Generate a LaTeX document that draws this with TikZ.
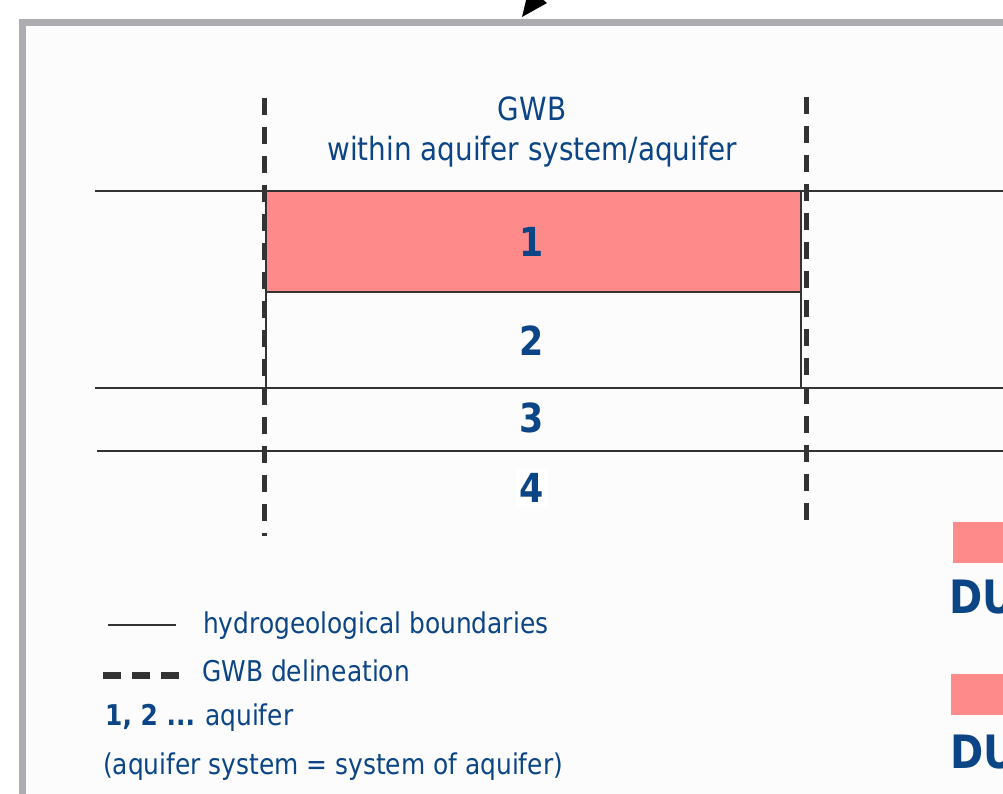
\documentclass[tikz,border=0pt]{standalone}
\usepackage{fontspec}
\setmainfont{DejaVu Sans}[FakeStretch=0.87]
\definecolor{framegray}{HTML}{ADADB1}
\definecolor{panelbg}{HTML}{FCFCFC}
\definecolor{aqpink}{HTML}{FF8A8A}
\definecolor{txtblue}{HTML}{0B4586}
\definecolor{linegray}{HTML}{333333}
\tikzset{
  boundary/.style={draw=linegray, line width=1.8pt},
  gwbline/.style={draw=linegray, line width=5pt, dash pattern=on 17pt off 12pt},
  label/.style={text=txtblue, inner sep=0pt, font=\fontsize{28.6}{34}\selectfont},
  headlabel/.style={text=txtblue, inner sep=0pt, font=\fontsize{32}{38}\selectfont},
  aqnum/.style={text=txtblue, inner sep=0pt, font=\bfseries\fontsize{40}{46}\selectfont},
  bigdu/.style={text=txtblue, inner sep=0pt, anchor=base west, font=\bfseries\fontsize{46}{52}\selectfont},
}
\begin{document}
\begin{tikzpicture}[x=1pt, y=-1pt]
\useasboundingbox (0,0) rectangle (1003,794);
\clip (0,0) rectangle (1003,794);
% panel with grey frame
\fill[white] (0,0) rectangle (1003,794);
\draw[framegray, line width=7pt, fill=panelbg] (22.5,22.5) rectangle (1200,1000);
% arrowhead entering from above
\fill[black] (522,17) -- (547,3) -- (529,-12) -- cycle;

% heading
\node[headlabel, anchor=base] (gwb) at (532,121) {GWB};
\node[headlabel, anchor=base] (within) at (532,161) {within aquifer system/aquifer};

% aquifer 1 (pink) and aquifer 2 inside the GWB
\fill[aqpink] (266,191) rectangle (801,292);
\draw[linegray, line width=1.2pt] (266,191) -- (266,388);
\draw[linegray, line width=1.2pt] (801,191) -- (801,388);
\draw[linegray, line width=1.2pt] (266,292) -- (801,292);

% hydrogeological boundaries
\draw[boundary] (95,191) -- (1003,191);
\draw[boundary] (95,388) -- (1003,388);
\draw[boundary] (97,451) -- (1003,451);

% GWB delineation
\draw[gwbline] (264,98) -- (264,536);
\draw[gwbline] (806,97) -- (806,531);

% aquifer numbers
\node[aqnum, anchor=base] (n1) at (532,257) {1};
\node[aqnum, anchor=base] (n2) at (532,355) {2};
\node[aqnum, anchor=base] (n3) at (532,432) {3};
\node[aqnum, anchor=base, fill=white, inner sep=4pt] (n4) at (532,502) {4};

% right-hand column
\fill[aqpink] (953,522) rectangle (1010,563);
\node[bigdu] (du1) at (949,613) {DU};
\fill[aqpink] (951,674) rectangle (1010,715);
\node[bigdu] (du2) at (950,768) {DU};

% legend
\draw[linegray, line width=1.6pt] (108,625) -- (176,625);
\node[label, anchor=base west] (lg1) at (203,633) {hydrogeological boundaries};
\draw[linegray, line width=7pt, dash pattern=on 18pt off 11pt] (103,675.5) -- (184,675.5);
\node[label, anchor=base west] (lg2) at (202,681) {GWB delineation};
\node[label, anchor=base west, font=\bfseries\fontsize{28.6}{34}\selectfont] (lg3a) at (105,725) {1, 2 ...};
\node[label, anchor=base west] (lg3b) at (205,725) {aquifer};
\node[label, anchor=base west] (lg4) at (103,774) {(aquifer system = system of aquifer)};
\end{tikzpicture}
\end{document}
